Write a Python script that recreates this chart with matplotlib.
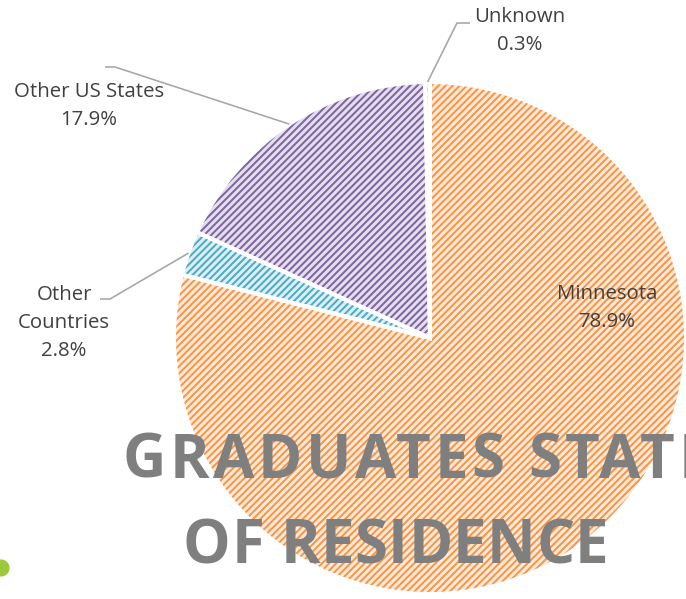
"""
Pie chart of the state of residence of graduates, redrawn with hatched slices
the way the original spreadsheet chart shows them.
"""

import numpy as np
import matplotlib
matplotlib.use("Agg")
import matplotlib.pyplot as plt
from matplotlib.patches import Circle


# data (clockwise from 12 o'clock)
categories = ["Minnesota", "Other Countries", "Other US States", "Unknown"]
shares = [78.9, 2.8, 17.9, 0.3]

# figure is laid out in pixels of the 686 x 599 picture
W, H = 686, 599
DPI = 85


def pt(px):
    """Converts pixels of the picture to points at the figure dpi"""
    return px * 72 / DPI


def Y(y):
    """Flips a picture y (from the top) to an axes y (from the bottom)"""
    return H - y


def draw_pie(ax):
    """
    Draws the hatched pie and the white separators

    :param ax: axes in pixel coordinates
    :return: (list) the wedges of the pie
    """
    back = ["#FDE9D9", "#DDEFF4", "#E4DFEC", "#FDE9D9"]
    front = ["#F79646", "#4BACC6", "#8064A2", "#F79646"]
    center = (430, Y(338))
    radius = 256

    wedges, _ = ax.pie(shares, startangle=90, counterclock=False, center=center,
                       radius=radius, colors=back, frame=True,
                       wedgeprops=dict(linewidth=0))
    for w, c in zip(wedges, front):
        w.set_edgecolor(c)
        w.set_hatch("////")

    # second pie on top only for the white borders between slices
    ax.pie(shares, startangle=90, counterclock=False, center=center, radius=radius,
           frame=True, wedgeprops=dict(fill=False, edgecolor="white", linewidth=pt(4)))
    return wedges


def label_slices(ax, wedges):
    """
    Writes the category labels and the leader lines of the outside labels

    :param ax: axes in pixel coordinates
    :param wedges: wedges returned by draw_pie
    """
    txt = dict(fontsize=pt(20.4), color="#404040", family="Open Sans",
               ha="center", va="center", linespacing=1.52)
    labels = ["Minnesota\n{}%", "Other\nCountries\n{}%", "Other US States\n{}%", "Unknown\n{}%"]
    spots = [(607, 308), (64, 323), (89, 106), (520, 31)]
    # elbow of the leader line (start, knee) for the outside labels
    elbows = [None, [(100, 299), (110, 299)], [(105, 67), (115, 67)], [(470, 23), (457, 23)]]

    for w, lab, val, (x, y), elb in zip(wedges, labels, shares, spots, elbows):
        ax.text(x, Y(y), lab.format(val), **txt)
        if elb is None:
            continue
        mid = np.deg2rad((w.theta1 + w.theta2) / 2)
        cx, cy = w.center
        end = (cx + w.r * np.cos(mid), cy + w.r * np.sin(mid))
        xs = [elb[0][0], elb[1][0], end[0]]
        ys = [Y(elb[0][1]), Y(elb[1][1]), end[1]]
        ax.plot(xs, ys, color="#A6A6A6", linewidth=pt(1.6), solid_capstyle="butt")


def spaced_text(ax, x, y, s, track, **kw):
    """
    Writes a string letter by letter with extra space between the letters

    :param track: (float) extra pixels after each letter
    """
    renderer = ax.figure.canvas.get_renderer()

    def width(part):
        t = ax.text(0, 0, part, **kw)
        w = t.get_window_extent(renderer).width
        t.remove()
        return w

    for i, ch in enumerate(s):
        if ch == " ":
            continue
        left = width(s[:i + 1]) - width(ch)
        ax.text(x + left + i * track, y, ch, **kw)


def main():
    """Builds the chart and saves it to out.png"""
    plt.rcParams["hatch.linewidth"] = pt(2.0)

    fig = plt.figure(figsize=(W / DPI, H / DPI), dpi=DPI)
    ax = fig.add_axes([0, 0, 1, 1])

    wedges = draw_pie(ax)
    label_slices(ax, wedges)

    ax.set_xlim(0, W)
    ax.set_ylim(0, H)
    ax.set_aspect("auto")
    ax.axis("off")

    # title sits over the lower half of the pie
    title = dict(fontsize=pt(60), color="#7F7F7F", family="Open Sans",
                 fontweight="bold", ha="left", va="baseline")
    spaced_text(ax, 122, Y(478), "GRADUATES STATE", 3.8, **title)
    spaced_text(ax, 183, Y(563), "OF RESIDENCE", 0.4, **title)

    # green dot of the slide in the bottom left corner
    ax.add_patch(Circle((1, Y(568)), 8, color="#9BCB3B", clip_on=False))

    fig.savefig("out.png", dpi=DPI)


if __name__ == '__main__':
    main()
